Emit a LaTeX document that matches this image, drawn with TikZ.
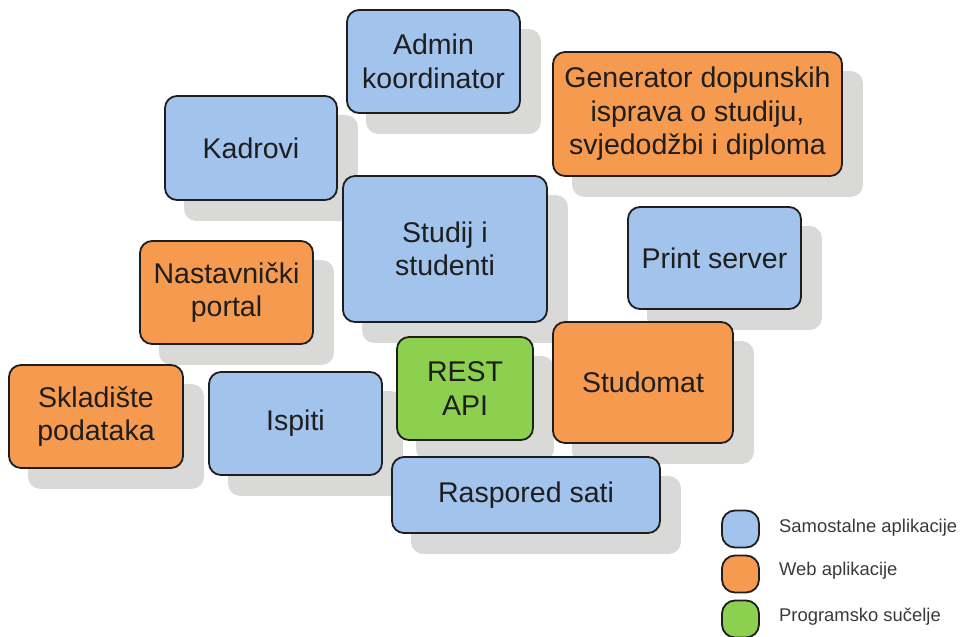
\documentclass[tikz,border=0pt]{standalone}
\usepackage{fontspec}
\setmainfont{Liberation Sans}
\usetikzlibrary{backgrounds}
\definecolor{bluebox}{HTML}{A2C3EB}
\definecolor{orangebox}{HTML}{F59A4E}
\definecolor{greenbox}{HTML}{8DCF4E}
\definecolor{shadowc}{HTML}{D9DAD7}
\definecolor{textc}{HTML}{1E1E1E}
\definecolor{legtext}{HTML}{3A3A3A}
\newcommand{\appbox}[7]{%
  \node[appnode, fill=#6, minimum width={#4-#2}, minimum height={#5-#3}] (#1) at ({(#2+#4)/2},{(#3+#5)/2}) {#7};
  \begin{pgfonlayer}{background}
    \fill[shadowc, rounded corners=12pt] ([xshift=20pt,yshift=-20pt]#1.south west) rectangle ([xshift=20pt,yshift=-20pt]#1.north east);
  \end{pgfonlayer}}
\begin{document}
\begin{tikzpicture}[x=1pt,y=-1pt,
  appnode/.style={draw=textc, line width=1.8pt, rounded corners=12pt, inner sep=0pt, align=center,
    font=\fontsize{28.5}{33.5}\selectfont, text=textc},
  legsq/.style={draw=textc, line width=1.8pt, rounded corners=13pt, minimum width=37pt, minimum height=37pt, inner sep=0pt},
  legtxt/.style={anchor=west, inner sep=0pt, font=\fontsize{18.4}{22}\selectfont, text=legtext}]
\begin{pgfonlayer}{background}
\fill[white] (0,0) rectangle (969,637);
\end{pgfonlayer}
\useasboundingbox (0,0) rectangle (969,637);
\appbox{admin}{347}{10}{520}{113}{bluebox}{Admin\\koordinator}
\appbox{gen}{553}{52}{842}{176}{orangebox}{Generator dopunskih\\isprava o studiju,\\svjedodžbi i diploma}
\appbox{kadrovi}{165}{96}{337}{200}{bluebox}{Kadrovi}
\appbox{studij}{343}{176}{547}{322}{bluebox}{Studij i\\studenti}
\appbox{print}{628}{207}{801}{309}{bluebox}{Print server}
\appbox{nast}{140}{241}{313}{344}{orangebox}{Nastavnički\\portal}
\appbox{studomat}{553}{322}{733}{443}{orangebox}{Studomat}
\appbox{rest}{397}{337}{533}{440}{greenbox}{REST\\API}
\appbox{sklad}{9}{365}{183}{468}{orangebox}{Skladište\\podataka}
\appbox{ispiti}{209}{372}{382}{475}{bluebox}{Ispiti}
\appbox{raspored}{392}{457}{660}{533}{bluebox}{Raspored sati}
\node[legsq, fill=bluebox] (lgb) at (740.5,529) {};
\node[legsq, fill=orangebox] (lgo) at (740.5,574) {};
\node[legsq, fill=greenbox] (lgg) at (740.5,619) {};
\node[legtxt] (ltb) at (779,528) {Samostalne aplikacije};
\node[legtxt] (lto) at (779,571) {Web aplikacije};
\node[legtxt] (ltg) at (779,617) {Programsko sučelje};
\end{tikzpicture}
\end{document}
